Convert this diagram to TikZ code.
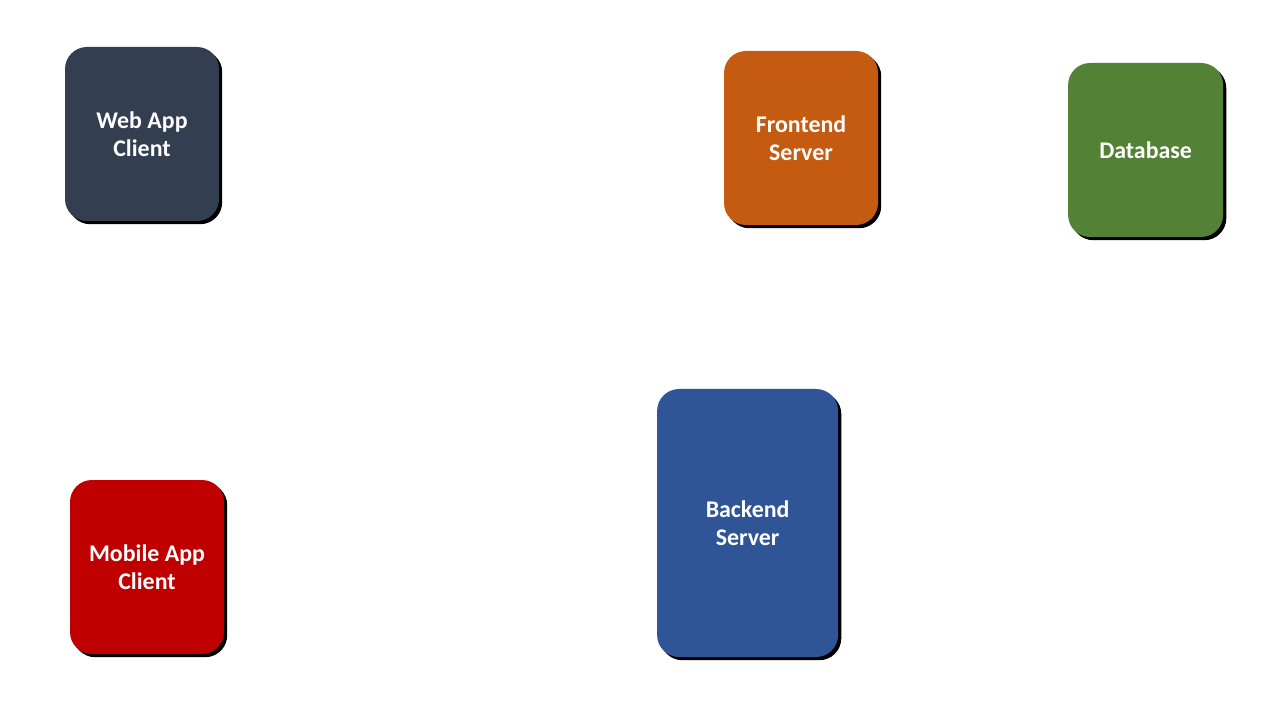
\documentclass[tikz,border=0pt]{standalone}
\usepackage{fontspec}
\setmainfont{Carlito}
\usepackage{xcolor}
\usetikzlibrary{shadows}

\definecolor{webcolor}{HTML}{333F50}
\definecolor{frontcolor}{HTML}{C55A11}
\definecolor{dbcolor}{HTML}{538135}
\definecolor{mobilecolor}{HTML}{C00000}
\definecolor{backcolor}{HTML}{2F5597}

\begin{document}
\begin{tikzpicture}[
    block/.style={rectangle, rounded corners=0.55cm, minimum width=3.85cm, minimum height=4.35cm, inner sep=0pt, align=center, text=white, font=\fontsize{17}{20.3}\selectfont\bfseries, drop shadow={shadow xshift=0.08cm, shadow yshift=-0.08cm, fill=black, opacity=1}}
]
    \useasboundingbox[fill=white] (0,0) rectangle (32,18);
    \node[block, fill=webcolor] (web_client) at (3.55,14.65) {Web App\\Client};
    \node[block, fill=frontcolor] (frontend) at (20.025,14.55) {Frontend\\Server};
    \node[block, fill=dbcolor, minimum width=3.875cm] (database) at (28.64,14.25) {Database};
    \node[block, fill=mobilecolor] (mobile_client) at (3.675,3.825) {Mobile App\\Client};
    \node[block, fill=backcolor, minimum width=4.525cm, minimum height=6.7cm] (backend) at (18.69,4.925) {Backend\\Server};
\end{tikzpicture}
\end{document}
